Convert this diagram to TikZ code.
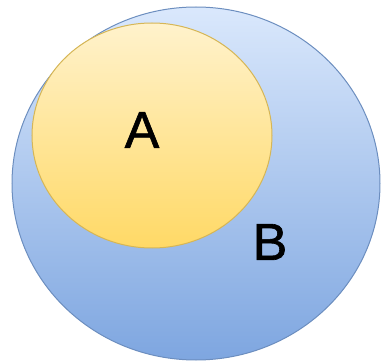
\documentclass[tikz,border=0pt]{standalone}
\usepackage{fontspec}
\setmainfont{Liberation Sans}
\newfontfamily\lblfont{Liberation Sans}[BoldFont=Liberation Sans,BoldFeatures={FakeBold=1.2}]
\usetikzlibrary{shapes.geometric}
\definecolor{bTop}{HTML}{DAE8FC}
\definecolor{bBot}{HTML}{7EA6E0}
\definecolor{bLine}{HTML}{6C8EBF}
\definecolor{aTop}{HTML}{FFF2CC}
\definecolor{aBot}{HTML}{FFD966}
\definecolor{aLine}{HTML}{D6B656}
\begin{document}
\begin{tikzpicture}[x=1pt,y=-1pt,
  setB/.style={shape=ellipse,draw=bLine,line width=1pt,top color=bTop,bottom color=bBot,minimum width=368pt,minimum height=353pt,inner sep=0pt},
  setA/.style={shape=ellipse,draw=aLine,line width=1pt,top color=aTop,bottom color=aBot,minimum width=240pt,minimum height=225pt,inner sep=0pt},
  lbl/.style={font=\lblfont\bfseries\fontsize{52}{52}\selectfont,text=black,inner sep=0pt}]
\useasboundingbox (0,0) rectangle (381,361);
\node[setB] (B) at (196,183.5) {};
\node[setA] (A) at (152,135.5) {};
\node[lbl] (la) at (142,130) {A};
\node[lbl] (lb) at (270,242) {B};
\end{tikzpicture}
\end{document}
